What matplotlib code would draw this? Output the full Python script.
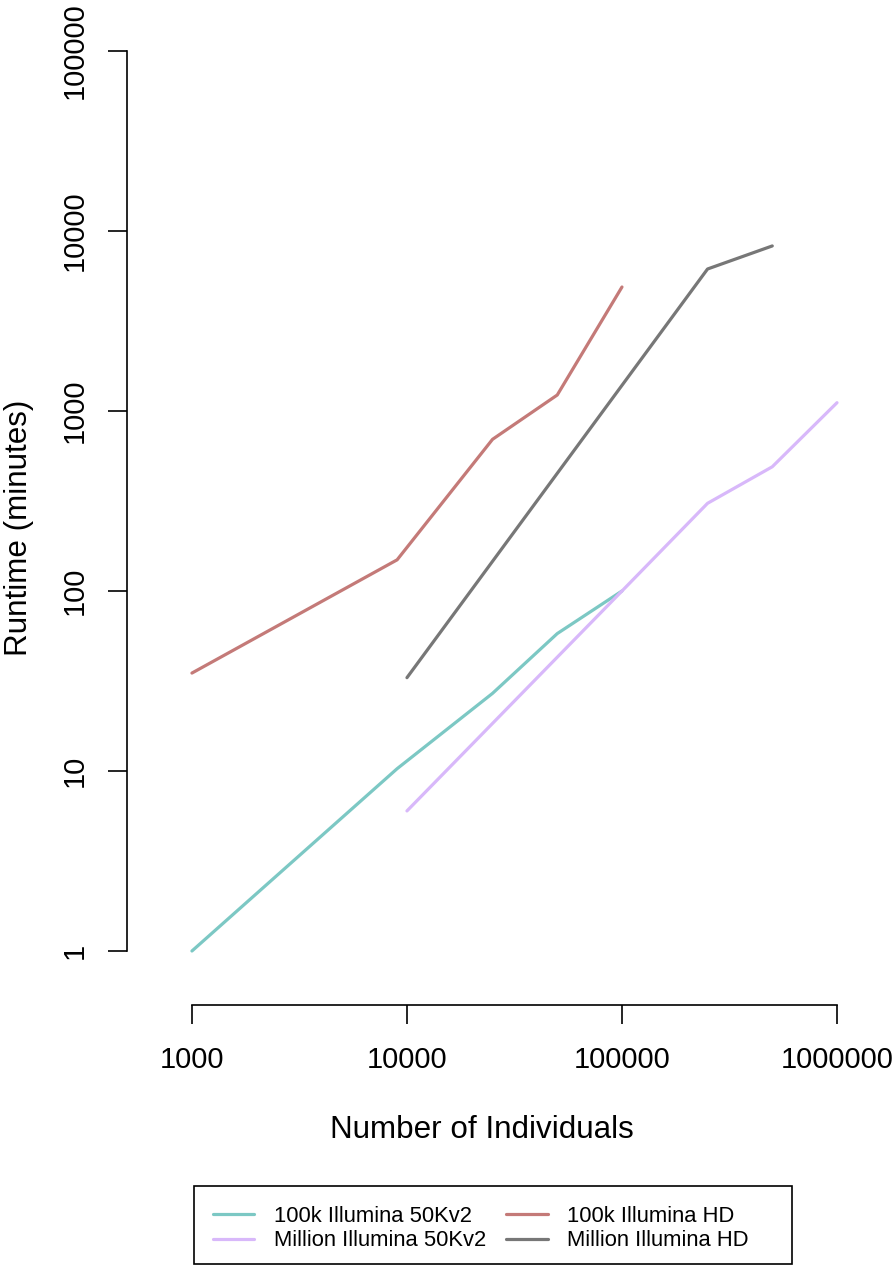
import matplotlib
matplotlib.use("Agg")
import matplotlib.pyplot as plt
from matplotlib.patches import Rectangle
from matplotlib.ticker import FixedLocator, FixedFormatter, NullLocator

plt.rcParams['font.family'] = ['Liberation Sans', 'DejaVu Sans']

# data
x_100k_50k = [1000, 9000, 25000, 50000, 100000]
y_100k_50k = [1, 10.3, 27, 58, 100]
x_mil_50k = [10000, 100000, 250000, 500000, 1000000]
y_mil_50k = [6, 100, 307, 490, 1112]
x_100k_hd = [1000, 9000, 25000, 50000, 100000]
y_100k_hd = [35, 149, 696, 1227, 4885]
x_mil_hd = [10000, 250000, 500000]
y_mil_hd = [33, 6150, 8260]

labels = ["100k Illumina 50Kv2", "Million Illumina 50Kv2", "100k Illumina HD", "Million Illumina HD"]
colors = ["#7CC8C4", "#D8B8FA", "#C47A78", "#777777"]

xticks = [1000, 10000, 100000, 1000000]
xticklabels = ["1000", "10000", "100000", "1000000"]
yticks = [1, 10, 100, 1000, 10000, 100000]
yticklabels = ["1", "10", "100", "1000", "10000", "100000"]

W, H = 896, 1267
fig = plt.figure(figsize=(W / 100, H / 100), dpi=100)
ax = fig.add_axes([127 / W, 1 - 1005 / H, (837 - 127) / W, (1005 - 51) / H])
ax.set_xscale('log')
ax.set_yscale('log')
ax.set_xlim(10 ** 2.698, 1e6)
ax.set_ylim(10 ** -0.3, 1e5)

lw = 2.3
series = [(x_100k_50k, y_100k_50k), (x_mil_50k, y_mil_50k), (x_100k_hd, y_100k_hd), (x_mil_hd, y_mil_hd)]
handles = []
for (xs, ys), c, lab in zip(series, colors, labels):
    h, = ax.plot(xs, ys, color=c, lw=lw, label=lab, solid_capstyle='round', clip_on=False)
    handles.append(h)

for s in ['top', 'right']:
    ax.spines[s].set_visible(False)
ax.spines['left'].set_bounds(1, 1e5)
ax.spines['bottom'].set_bounds(1000, 1e6)
ax.spines['left'].set_linewidth(1.2)
ax.spines['bottom'].set_linewidth(1.2)

ax.xaxis.set_major_locator(FixedLocator(xticks))
ax.xaxis.set_major_formatter(FixedFormatter(xticklabels))
ax.yaxis.set_major_locator(FixedLocator(yticks))
ax.yaxis.set_major_formatter(FixedFormatter(yticklabels))
ax.xaxis.set_minor_locator(NullLocator())
ax.yaxis.set_minor_locator(NullLocator())
ax.tick_params(axis='x', length=13.7, width=1.2, labelsize=21, pad=16)
ax.tick_params(axis='y', length=13.7, width=1.2, labelsize=21, pad=14)
for t in ax.get_yticklabels():
    t.set_rotation(90)
    t.set_va('center')

ax.set_xlabel("Number of Individuals", fontsize=22.6, labelpad=29)
ax.set_ylabel("Runtime (minutes)", fontsize=22.6, labelpad=19)

leg = fig.legend(handles, labels, ncol=2, loc='center left',
                 bbox_to_anchor=(206 / W, 1 - 1228.5 / H),
                 fontsize=15.8, frameon=False,
                 handlelength=1.9, handletextpad=0.9, columnspacing=0.9, labelspacing=0.17,
                 borderpad=0.3, borderaxespad=0)
fig.add_artist(Rectangle((194 / W, 1 - 1264 / H), (792 - 194) / W, (1264 - 1186) / H,
                         transform=fig.transFigure, fill=False, edgecolor='black', lw=1.2))

fig.savefig("out.png", dpi=100)
